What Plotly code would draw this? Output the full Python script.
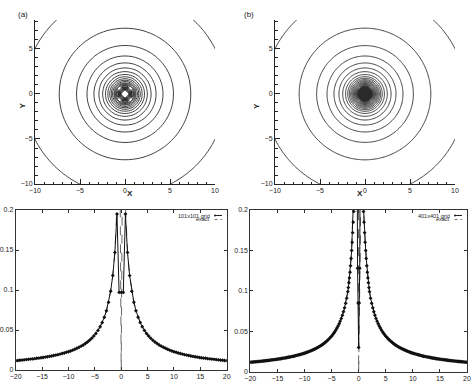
import numpy as np
import plotly.graph_objects as go

# ---------------- data ----------------
# centreline profile, 101x101 grid (x >= 0, step 0.4); mirrored for x < 0
grid101_x = np.round(np.arange(0, 20.0001, 0.4), 2)
grid101_y = [0.097, 0.097, 0.195, 0.147, 0.118, 0.0985, 0.0846, 0.0741, 0.0659, 0.0594,
             0.0540, 0.0495, 0.0457, 0.0425, 0.0397, 0.0372, 0.0350, 0.0331, 0.0313, 0.0298,
             0.0284, 0.0271, 0.0259, 0.0248, 0.0238, 0.0229, 0.0221, 0.0213, 0.0206, 0.0199,
             0.0192, 0.0186, 0.0181, 0.0175, 0.0170, 0.0166, 0.0161, 0.0157, 0.0153, 0.0149,
             0.0146, 0.0142, 0.0139, 0.0136, 0.0133, 0.0130, 0.0127, 0.0124, 0.0122, 0.0119,
             0.0117]
exact101_core = [0.0, 0.45, 0.205]          # exact solution near the source (x = 0, 0.4, 0.8)

# centreline profile, 401x401 grid (x >= 0: step 0.1 up to 2, then step 0.2)
grid401_x = np.round(np.concatenate([np.arange(0, 2.0001, 0.1), np.arange(2.2, 20.0001, 0.2)]), 2)
grid401_y = [0.030, 0.085, 0.128, 0.300, 0.450, 0.400, 0.320, 0.260, 0.215, 0.198,
             0.185, 0.172, 0.160, 0.150, 0.140, 0.131, 0.123, 0.116, 0.110, 0.104,
             0.0990,
             0.0910, 0.0846, 0.0790, 0.0741, 0.0698, 0.0659, 0.0625, 0.0594, 0.0566, 0.0540,
             0.0517, 0.0495, 0.0476, 0.0457, 0.0440, 0.0425, 0.0410, 0.0397, 0.0384, 0.0372,
             0.0361, 0.0350, 0.0340, 0.0331, 0.0322, 0.0313, 0.0306, 0.0298, 0.0291, 0.0284,
             0.0277, 0.0271, 0.0265, 0.0259, 0.0254, 0.0248, 0.0243, 0.0238, 0.0234, 0.0229,
             0.0225, 0.0221, 0.0217, 0.0213, 0.0209, 0.0206, 0.0202, 0.0199, 0.0195, 0.0192,
             0.0189, 0.0186, 0.0183, 0.0181, 0.0178, 0.0175, 0.0173, 0.0170, 0.0168, 0.0166,
             0.0163, 0.0161, 0.0159, 0.0157, 0.0155, 0.0153, 0.0151, 0.0149, 0.0147, 0.0146,
             0.0144, 0.0142, 0.0140, 0.0139, 0.0137, 0.0136, 0.0134, 0.0133, 0.0131, 0.0130,
             0.0128, 0.0127, 0.0126, 0.0124, 0.0123, 0.0122, 0.0121, 0.0119, 0.0118, 0.0117]
exact401_core = [0.0, 1.0, 0.70, 0.55, 0.45, 0.38, 0.32, 0.27, 0.23]   # x = 0 .. 0.8

# contour levels (evenly spaced)
level_start, level_end, level_step = 0.0206, 0.5, 0.0103

legend_a = ["101x101 grid", "exact"]
legend_b = ["401x401 grid", "exact"]
panel_tags = ["(a)", "(b)"]
ticks_xy = [-10, -5, 0, 5, 10]
ticks_prof_x = [-20, -15, -10, -5, 0, 5, 10, 15, 20]
ticks_prof_y = [0, 0.05, 0.1, 0.15, 0.2]
ticks_prof_y_text = ["0", "0.05", "0.1", "0.15", "0.2"]


def mirror(xs, ys):
    xs = np.asarray(xs, float)
    ys = np.asarray(ys, float)
    return np.concatenate([-xs[:0:-1], xs]), np.concatenate([ys[:0:-1], ys])


def radial_field(px, py):
    gx, gy = mirror(px, py)
    X, Y = np.meshgrid(gx, gx)
    R = np.sqrt(X ** 2 + Y ** 2)
    Z = np.interp(R, np.asarray(px, float), np.asarray(py, float))
    return gx, Z


FONT = "Liberation Sans"
fig = go.Figure()

# contour panels
for k, (px, py) in enumerate([(grid101_x, grid101_y), (grid401_x, grid401_y)]):
    gx, Z = radial_field(px, py)
    sfx = "" if k == 0 else str(k + 1)
    fig.add_trace(go.Contour(
        x=gx, y=gx, z=Z, xaxis="x" + sfx, yaxis="y" + sfx,
        contours=dict(coloring="lines", start=level_start, end=level_end, size=level_step,
                      showlabels=False),
        colorscale=[[0, "#2a2a2a"], [1, "#2a2a2a"]], line=dict(width=0.9),
        showscale=False, hoverinfo="skip"))

# profile panels
for k, (px, py, core) in enumerate([(grid101_x, grid101_y, exact101_core),
                                    (grid401_x, grid401_y, exact401_core)]):
    ax = str(k + 3)
    mx, my = mirror(px, py)
    ey_half = list(core) + list(py[len(core):])
    ex, ey = mirror(px, ey_half)
    fig.add_trace(go.Scatter(x=ex, y=ey, mode="lines", xaxis="x" + ax, yaxis="y" + ax,
                             line=dict(color="#666666", width=1, dash="dash"),
                             showlegend=False, hoverinfo="skip"))
    fig.add_trace(go.Scatter(x=mx, y=my, mode="lines+markers", xaxis="x" + ax, yaxis="y" + ax,
                             line=dict(color="#111111", width=1),
                             marker=dict(symbol="diamond", size=3, color="#111111"),
                             showlegend=False, hoverinfo="skip"))

W, H = 474, 384


def px_x(p):
    return p / W


def px_y(p):
    return (H - p) / H


tickfont = dict(family=FONT, size=7, color="#222")
common_top = dict(showline=True, linecolor="#222", linewidth=1, ticks="inside", ticklen=5,
                  tickcolor="#222", showgrid=False, zeroline=False, tickfont=tickfont,
                  automargin=False, tickvals=ticks_xy,
                  minor=dict(dtick=1, ticks="inside", ticklen=2.5, tickcolor="#222",
                             showgrid=False))
common_bot = dict(showline=True, mirror="allticks", linecolor="#333", linewidth=1, ticks="inside",
                  ticklen=3, tickcolor="#333", showgrid=False, zeroline=False, tickfont=tickfont,
                  automargin=False)

layout = dict(
    width=W, height=H, margin=dict(l=0, r=0, t=0, b=0, autoexpand=False),
    paper_bgcolor="white", plot_bgcolor="white", showlegend=False,
    xaxis=dict(domain=[px_x(35), px_x(215)], range=[-10, 10], anchor="y", **common_top),
    yaxis=dict(domain=[px_y(184), px_y(20)], range=[-10, 8.22], anchor="x", **common_top),
    xaxis2=dict(domain=[px_x(275), px_x(455)], range=[-10, 10], anchor="y2", **common_top),
    yaxis2=dict(domain=[px_y(184), px_y(20)], range=[-10, 8.22], anchor="x2", **common_top),
    xaxis3=dict(domain=[px_x(15.7), px_x(226.7)], range=[-20, 20], anchor="y3",
                tickvals=ticks_prof_x, **common_bot),
    yaxis3=dict(domain=[px_y(370), px_y(210)], range=[0, 0.2], anchor="x3",
                tickvals=ticks_prof_y, ticktext=ticks_prof_y_text, **common_bot),
    xaxis4=dict(domain=[px_x(250.3), px_x(467)], range=[-20, 20], anchor="y4",
                tickvals=ticks_prof_x, **common_bot),
    yaxis4=dict(domain=[px_y(371.7), px_y(210)], range=[0, 0.2], anchor="x4",
                tickvals=ticks_prof_y, ticktext=ticks_prof_y_text, **common_bot),
)
fig.update_layout(**layout)

ann = []
shapes = []
# panel tags and axis titles
for tag, xp in zip(panel_tags, [16, 249]):
    ann.append(dict(text=tag, x=px_x(xp), y=px_y(8), xref="paper", yref="paper",
                    showarrow=False, font=dict(family=FONT, size=8, color="#222")))
for xc, yx in [(125, 15), (365, 256)]:
    ann.append(dict(text="<b>X</b>", x=px_x(xc), y=px_y(193), xref="paper", yref="paper",
                    showarrow=False, font=dict(family=FONT, size=8, color="#222")))
    ann.append(dict(text="<b>Y</b>", x=px_x(yx), y=px_y(101), xref="paper", yref="paper",
                    showarrow=False, textangle=-90, font=dict(family=FONT, size=8, color="#222")))

# legends (gnuplot style: text then sample)
for labels, xr, s0, s1 in [(legend_a, 212.0, 214.5, 222), (legend_b, 451.5, 454.5, 462)]:
    for i, (lab, yy) in enumerate(zip(labels, [215.5, 219.5])):
        ann.append(dict(text=lab, x=px_x(xr), y=px_y(yy), xref="paper", yref="paper",
                        xanchor="right", yanchor="middle", showarrow=False,
                        font=dict(family=FONT, size=5.5, color="#222")))
        shapes.append(dict(type="line", xref="paper", yref="paper",
                           x0=px_x(s0), x1=px_x(s1), y0=px_y(yy), y1=px_y(yy),
                           line=dict(color="#222" if i == 0 else "#777", width=1,
                                     dash="solid" if i == 0 else "dot")))
    shapes.append(dict(type="circle", xref="paper", yref="paper",
                       x0=px_x(s0 - 0.5), x1=px_x(s0 + 1.5), y0=px_y(216.5), y1=px_y(214.5),
                       fillcolor="#222", line=dict(width=0)))

fig.update_layout(annotations=ann, shapes=shapes)
fig.write_html("out.html", config={"displayModeBar": False, "staticPlot": True},
               post_script="document.body.style.margin='0';document.body.style.overflow='hidden';")
